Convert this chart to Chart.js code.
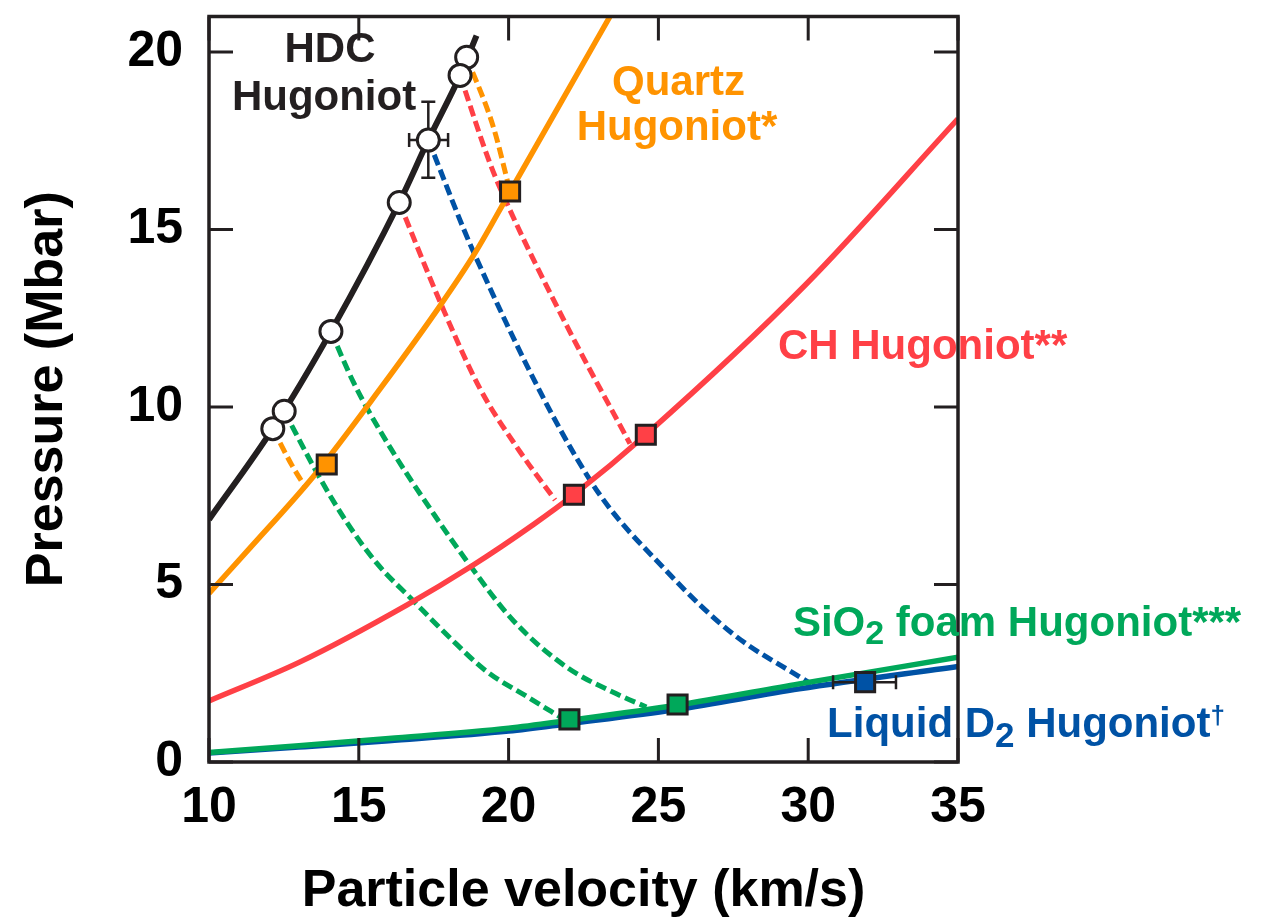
<!DOCTYPE html>
<html><head><meta charset="utf-8">
<script src="https://cdn.jsdelivr.net/npm/chart.js@4.4.1/dist/chart.umd.min.js"></script>
<style>html,body{margin:0;padding:0;background:#fff;}</style>
</head><body>
<canvas id="c" width="1276" height="920"></canvas>
<script>
// ---- axis ticks ----
const xTickValues = [10, 15, 20, 25, 30, 35];
const yTickValues = [0, 5, 10, 15, 20];

// ---- Hugoniot curves (particle velocity km/s, pressure Mbar) ----
const hdcV    = [10, 12.13, 14.07, 16.35, 17.32, 18.38, 18.93];
const hdcP    = [6.83, 9.39, 12.13, 15.76, 17.52, 19.34, 20.46];
const quartzV = [10, 11.37, 13.54, 15.71, 17.71, 18.88, 20.05, 21.72, 23.45];
const quartzP = [4.75, 6.03, 8.1, 10.51, 12.85, 14.34, 16.07, 18.54, 21.1];
const chV     = [10, 13.04, 16.6, 18.77, 20.83, 22.18, 24.58, 29.92, 35];
const chP     = [1.72, 2.82, 4.42, 5.52, 6.69, 7.53, 9.22, 13.45, 18.12];
const sio2V   = [10, 13, 16, 20, 22, 25.6, 29.7, 35];
const sio2P   = [0.27, 0.46, 0.66, 0.95, 1.17, 1.6, 2.2, 2.95];
const d2V     = [10, 13, 16, 20, 22, 25.6, 29.7, 35];
const d2P     = [0.25, 0.42, 0.6, 0.87, 1.08, 1.48, 2.06, 2.69];

// ---- release paths (dashed) ----
const qRelAV = [12.13, 12.76, 13.2];
const qRelAP = [9.39, 8.37, 7.76];
const qRelBV = [18.60, 19.49, 20.05];
const qRelBP = [19.85, 17.89, 16.07];
const chRelAV = [18.38, 19.38, 19.99, 21.94, 24.05];
const chRelAP = [19.34, 16.86, 15.65, 12.29, 8.97];
const chRelBV = [16.35, 17.77, 19.05, 20.38, 21.55];
const chRelBP = [15.76, 12.85, 10.51, 8.74, 7.38];
const d2RelV = [17.32, 18.88, 22.75, 25.27, 27.5, 29.73, 30.1];
const d2RelP = [17.52, 14.27, 7.9, 5.38, 3.6, 2.39, 2.2];
const sRelAV = [12.51, 13.7, 14.6, 15.6, 16.82, 18.04, 19.27, 20.6, 21.85];
const sRelAP = [9.88, 8.0, 6.75, 5.6, 4.54, 3.5, 2.55, 1.85, 1.2];
const sRelBV = [14.07, 14.82, 15.93, 17.49, 18.77, 20.16, 21.94, 23.6, 24.6];
const sRelBP = [12.13, 10.7, 9.02, 7.0, 5.47, 3.98, 2.67, 1.92, 1.55];

// ---- measured points ----
const hdcPtV = [12.13, 12.51, 14.07, 16.35, 17.32, 18.60, 18.38];
const hdcPtP = [9.39, 9.88, 12.13, 15.76, 17.52, 19.85, 19.34];
const qSqV = [13.93, 20.05];   const qSqP = [8.38, 16.07];
const chSqV = [22.18, 24.58];  const chSqP = [7.53, 9.22];
const sSqV = [22.03, 25.64];   const sSqP = [1.2, 1.62];
const dSqV = [31.9];           const dSqP = [2.25];
// error bars: [v, P, vLow, vHigh, PLow, PHigh]
const hdcErr = [17.32, 17.52, 16.68, 17.98, 16.46, 18.6];
const d2Err  = [31.9, 2.25, 30.83, 32.93, null, null];

const FONT = '"Liberation Sans", Arial, Helvetica, sans-serif';
const C = {black:'#231f20', orange:'#ff9300', red:'#ff4046', green:'#00a85a', blue:'#0052a5'};
const pts = (v, p) => v.map((x, i) => ({x, y: p[i]}));

function solid(v, p, color, w) {
  return {data: pts(v, p), showLine: true, borderColor: color, borderWidth: w, pointRadius: 0,
          cubicInterpolationMode: 'monotone', order: 2};
}
function dashed(v, p, color) {
  return {data: pts(v, p), showLine: true, borderColor: color, borderWidth: 5, borderDash: [11, 5],
          pointRadius: 0, cubicInterpolationMode: 'monotone', order: 3};
}
function squares(v, p, color, err) {
  return {data: pts(v, p), showLine: false, pointStyle: 'rect', pointRadius: 13.5,
          backgroundColor: color, borderColor: C.black, pointBorderWidth: 3, order: 0, errBar: err};
}

const labels = [
  {v: 14.04, p: 19.72, align: 'center', color: C.black, parts: [{t: 'HDC', s: 42}]},
  {v: 13.84, p: 18.38, align: 'center', color: C.black, parts: [{t: 'Hugoniot', s: 42}]},
  {v: 25.67, p: 18.80, align: 'center', color: C.orange, parts: [{t: 'Quartz', s: 42}]},
  {v: 25.62, p: 17.51, align: 'center', color: C.orange, parts: [{t: 'Hugoniot*', s: 42}]},
  {v: 28.99, p: 11.34, align: 'left', color: C.red, parts: [{t: 'CH Hugoniot**', s: 42}]},
  {v: 29.49, p: 3.56, align: 'left', color: C.green,
    parts: [{t: 'SiO', s: 42}, {t: '2', s: 34, dy: 8}, {t: ' foam Hugoniot***', s: 42}]},
  {v: 30.63, p: 0.70, align: 'left', color: C.blue,
    parts: [{t: 'Liquid D', s: 42}, {t: '2', s: 35, dy: 10}, {t: ' Hugoniot', s: 42}, {t: '\u2020', s: 26, dy: -13}]}
];

const framePlugin = {
  id: 'frame',
  beforeDatasetDraw(chart, args) {
    const ds = chart.data.datasets[args.index];
    if (!ds.errBar) return;
    const e = ds.errBar, xs = chart.scales.x, ys = chart.scales.y, ctx = chart.ctx;
    const cx = xs.getPixelForValue(e[0]), cy = ys.getPixelForValue(e[1]);
    ctx.save(); ctx.strokeStyle = C.black; ctx.lineWidth = 2.5; ctx.beginPath();
    if (e[2] !== null) {
      const x1 = xs.getPixelForValue(e[2]), x2 = xs.getPixelForValue(e[3]);
      ctx.moveTo(x1, cy); ctx.lineTo(x2, cy);
      ctx.moveTo(x1, cy - 7); ctx.lineTo(x1, cy + 7);
      ctx.moveTo(x2, cy - 7); ctx.lineTo(x2, cy + 7);
    }
    if (e[4] !== null) {
      const y1 = ys.getPixelForValue(e[4]), y2 = ys.getPixelForValue(e[5]);
      ctx.moveTo(cx, y1); ctx.lineTo(cx, y2);
      ctx.moveTo(cx - 7, y1); ctx.lineTo(cx + 7, y1);
      ctx.moveTo(cx - 7, y2); ctx.lineTo(cx + 7, y2);
    }
    ctx.stroke(); ctx.restore();
  },
  afterDatasetsDraw(chart) {
    const {ctx, chartArea: a, scales: {x: xs, y: ys}} = chart;
    ctx.save();
    ctx.strokeStyle = C.black;
    ctx.lineWidth = 3.5;
    ctx.strokeRect(a.left, a.top, a.right - a.left, a.bottom - a.top);
    ctx.lineWidth = 3;
    ctx.beginPath();
    const TL = 24;
    xTickValues.forEach(v => {
      const px = xs.getPixelForValue(v);
      ctx.moveTo(px, a.bottom); ctx.lineTo(px, a.bottom - TL);
      ctx.moveTo(px, a.top); ctx.lineTo(px, a.top + TL);
    });
    yTickValues.forEach(v => {
      const py = ys.getPixelForValue(v);
      ctx.moveTo(a.left, py); ctx.lineTo(a.left + TL, py);
      ctx.moveTo(a.right, py); ctx.lineTo(a.right - TL, py);
    });
    ctx.stroke();
    // labels
    ctx.textBaseline = 'alphabetic'; ctx.textAlign = 'left';
    labels.forEach(L => {
      let total = 0;
      L.parts.forEach(p => { ctx.font = `bold ${p.s}px ${FONT}`; p.w = ctx.measureText(p.t).width; total += p.w; });
      let x = xs.getPixelForValue(L.v);
      const y = ys.getPixelForValue(L.p);
      if (L.align === 'center') x -= total / 2;
      ctx.fillStyle = L.color;
      L.parts.forEach(p => { ctx.font = `bold ${p.s}px ${FONT}`; ctx.fillText(p.t, x, y + (p.dy || 0)); x += p.w; });
    });
    ctx.restore();
  }
};

new Chart(document.getElementById('c'), {
  type: 'scatter',
  data: {datasets: [
    {data: pts(hdcPtV, hdcPtP), showLine: false, pointStyle: 'circle', pointRadius: 11,
     backgroundColor: '#ffffff', borderColor: C.black, pointBorderWidth: 3, order: 0, errBar: hdcErr},
    squares(qSqV, qSqP, C.orange, null),
    squares(chSqV, chSqP, C.red, null),
    squares(sSqV, sSqP, C.green, null),
    squares(dSqV, dSqP, C.blue, d2Err),
    solid(hdcV, hdcP, C.black, 6),
    solid(quartzV, quartzP, C.orange, 5.5),
    solid(chV, chP, C.red, 5.5),
    solid(sio2V, sio2P, C.green, 5.5),
    solid(d2V, d2P, C.blue, 5.5),
    dashed(qRelAV, qRelAP, C.orange),
    dashed(qRelBV, qRelBP, C.orange),
    dashed(chRelAV, chRelAP, C.red),
    dashed(chRelBV, chRelBP, C.red),
    dashed(d2RelV, d2RelP, C.blue),
    dashed(sRelAV, sRelAP, C.green),
    dashed(sRelBV, sRelBP, C.green)
  ]},
  options: {
    responsive: false, animation: false, events: [], devicePixelRatio: 1,
    layout: {padding: {left: 0, top: 12, right: 318, bottom: 0}},
    plugins: {legend: {display: false}, tooltip: {enabled: false}},
    scales: {
      x: {type: 'linear', min: 10, max: 35,
          afterBuildTicks: s => { s.ticks = xTickValues.map(v => ({value: v})); },
          afterFit: s => { s.height = 158; s.paddingLeft = 0; s.paddingRight = 0; },
          grid: {display: false, drawTicks: false, tickLength: 0}, border: {display: false},
          ticks: {font: {family: FONT, size: 50, weight: 'bold'}, color: '#000', padding: 16, maxRotation: 0},
          title: {display: true, text: 'Particle velocity (km/s)', color: '#000',
                  font: {family: FONT, size: 52, weight: 'bold', lineHeight: 1}, padding: {top: 0, bottom: 2}}},
      y: {type: 'linear', min: 0, max: 21,
          afterBuildTicks: s => { s.ticks = yTickValues.map(v => ({value: v})); },
          afterFit: s => { s.width = 209; s.paddingTop = 0; s.paddingBottom = 0; },
          grid: {display: false, drawTicks: false, tickLength: 0}, border: {display: false},
          ticks: {font: {family: FONT, size: 50, weight: 'bold'}, color: '#000', padding: 26},
          title: {display: true, text: 'Pressure (Mbar)', color: '#000',
                  font: {family: FONT, size: 52, weight: 'bold', lineHeight: 1}, padding: {top: 22, bottom: 0}}}
    }
  },
  plugins: [framePlugin]
});
</script>
</body></html>
